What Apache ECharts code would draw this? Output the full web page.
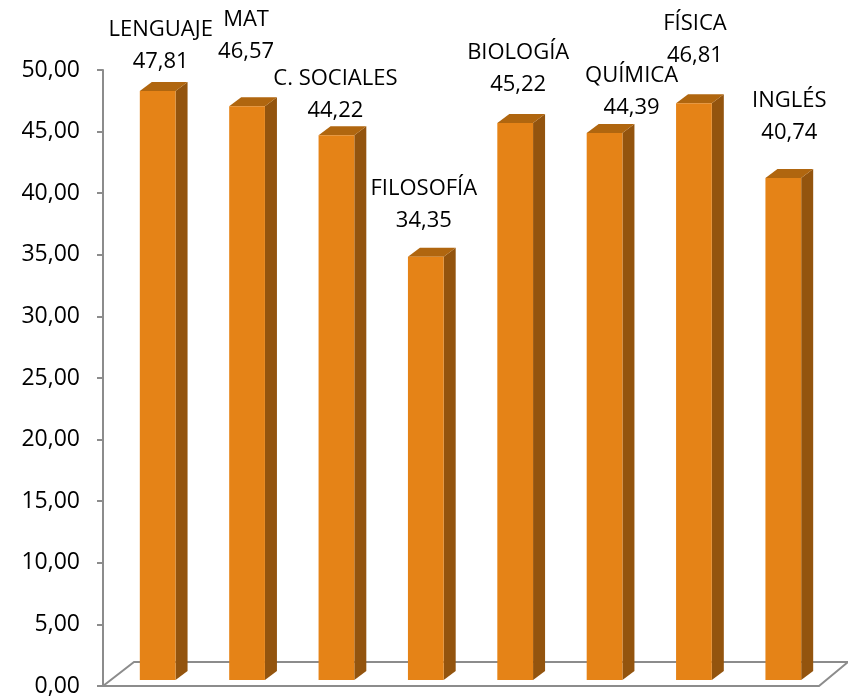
<!DOCTYPE html>
<html>
<head>
<meta charset="utf-8">
<script src="https://cdn.jsdelivr.net/npm/echarts@6/dist/echarts.min.js"></script>
<style>
  html, body { margin: 0; padding: 0; background: #fff; }
  #chart { width: 848px; height: 700px; }
</style>
</head>
<body>
<div id="chart"></div>
<script>
// materias y puntajes
const materias = ['LENGUAJE', 'MAT', 'C. SOCIALES', 'FILOSOFÍA', 'BIOLOGÍA', 'QUÍMICA', 'FÍSICA', 'INGLÉS'];
const puntajes = [47.81, 46.57, 44.22, 34.35, 45.22, 44.39, 46.81, 40.74];
const yTicks = [0, 5, 10, 15, 20, 25, 30, 35, 40, 45, 50];

// desplazamiento de cada etiqueta (x, y del valor respecto a la cara superior)
const labelShift = [[3, -20], [-1, -46], [-1, -15], [-2, -27], [3, -29], [27, -16], [1, -39], [6, -36]];

const FONT = '"Open Sans", "Noto Sans", sans-serif';
const colFront = '#E58317';
const colSide = '#93540E';
const colTop = '#B0660F';

function fmt(v) {
  return v.toFixed(2).replace('.', ',');
}

function renderBar(params, api) {
  let idx = api.value(0);
  let val = api.value(1);
  let base = api.coord([idx, 0]);
  let top = api.coord([idx, val]);
  let bw = api.size([1, 0])[0] * 0.4;
  let lift = 6, dx = 12, dy = 9;

  let x0 = base[0] - bw / 2;
  let x1 = x0 + bw;
  let yb = base[1] - lift;
  let yt = top[1] - lift;
  let sh = labelShift[idx];
  let yv = yt - dy + sh[1];

  return {
    type: 'group',
    children: [
      {
        type: 'polygon',
        shape: { points: [[x1, yt], [x1 + dx, yt - dy], [x1 + dx, yb - dy], [x1, yb]] },
        style: { fill: colSide }
      },
      {
        type: 'polygon',
        shape: { points: [[x0, yt], [x0 + dx, yt - dy], [x1 + dx, yt - dy], [x1, yt]] },
        style: { fill: colTop }
      },
      {
        type: 'rect',
        shape: { x: x0, y: yt, width: bw, height: yb - yt },
        style: { fill: colFront }
      },
      {
        type: 'text',
        x: base[0] + sh[0],
        y: yv,
        style: {
          text: fmt(val), fill: '#000', font: '22px ' + FONT,
          align: 'center', verticalAlign: 'middle'
        }
      },
      {
        type: 'text',
        x: base[0] + sh[0],
        y: yv - 32,
        style: {
          text: materias[idx], fill: '#000', font: '22px ' + FONT,
          align: 'center', verticalAlign: 'middle'
        }
      }
    ]
  };
}

let myChart = echarts.init(document.getElementById('chart'));

let option = {
  animation: false,
  backgroundColor: '#fff',
  grid: {
    left: 113,
    right: 20,
    top: 70,
    bottom: 14
  },
  xAxis: {
    type: 'category',
    data: materias,
    boundaryGap: true,
    axisLine: { show: false },
    axisTick: { show: false },
    axisLabel: { show: false },
    splitLine: { show: false }
  },
  yAxis: {
    type: 'value',
    min: yTicks[0],
    max: yTicks[yTicks.length - 1],
    interval: 5,
    offset: 10,
    axisLine: { show: true, lineStyle: { color: '#8C8C8C', width: 2 } },
    axisTick: { show: true, length: 6, lineStyle: { color: '#8C8C8C', width: 2 } },
    axisLabel: {
      margin: 23,
      color: '#000',
      fontSize: 23,
      fontFamily: FONT,
      formatter: function (v) { return fmt(v); }
    },
    splitLine: { show: false }
  },
  graphic: [
    {
      type: 'polyline',
      z: 0,
      shape: { points: [[103, 686], [819, 686], [848, 662], [134, 662], [103, 686]] },
      style: { stroke: '#8C8C8C', lineWidth: 2, fill: null }
    }
  ],
  series: [
    {
      type: 'custom',
      renderItem: renderBar,
      data: puntajes.map(function (v, i) { return [i, v]; }),
      z: 3
    }
  ]
};

myChart.setOption(option);
</script>
</body>
</html>
